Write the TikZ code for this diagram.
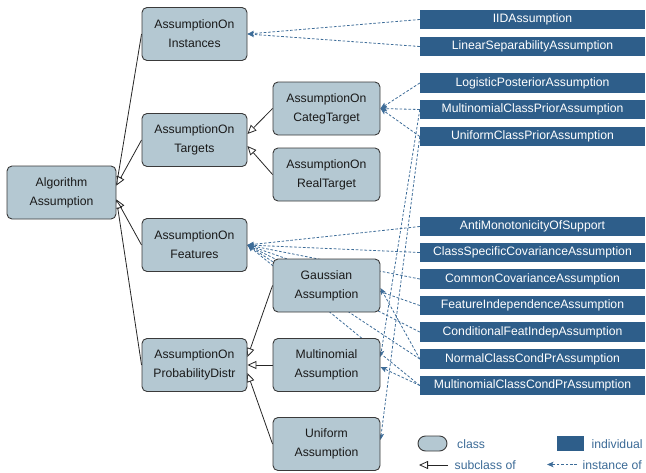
\documentclass[tikz,border=0pt]{standalone}
\usepackage{fontspec}
\setmainfont{Liberation Sans}
\usetikzlibrary{arrows.meta,backgrounds,calc}

\definecolor{classfill}{HTML}{B4C8D2}
\definecolor{classline}{HTML}{3A3A3A}
\definecolor{indivfill}{HTML}{2E5E8A}
\definecolor{instline}{HTML}{3D6C98}
\definecolor{legendtext}{HTML}{3B6A96}

\tikzset{
  classbox/.style={rectangle, rounded corners=5pt, fill=classfill, draw=classline,
    line width=0.9pt, minimum width=106pt, minimum height=53pt, inner sep=0pt,
    align=center, text=black!90, font=\fontsize{12.2}{19}\selectfont},
  indiv/.style={rectangle, fill=indivfill, minimum width=225pt, minimum height=19.5pt,
    inner sep=0pt, text=white, font=\fontsize{12.2}{14}\selectfont},
  subcls/.style={draw=black!85, line width=0.8pt,
    -{Triangle[open, length=9pt, width=8pt, fill=white]}},
  instof/.style={draw=instline, line width=0.8pt, dash pattern=on 2.6pt off 1.8pt,
    -{Stealth[length=6.5pt, width=5.5pt, inset=1.5pt]}},
  legtext/.style={text=legendtext, anchor=west, inner sep=0pt,
    font=\fontsize{12.2}{14}\selectfont},
}

\begin{document}
\begin{tikzpicture}[x=1pt, y=-1pt]
\useasboundingbox (0,0) rectangle (646,472);

% class hierarchy
\node[classbox, minimum width=109pt] (alg) at (61.5,192.5) {Algorithm\\Assumption};
\node[classbox, minimum width=105pt] (inst) at (194.5,34) {AssumptionOn\\Instances};
\node[classbox, minimum width=105pt] (targ) at (194.5,140) {AssumptionOn\\Targets};
\node[classbox, minimum width=105pt] (feat) at (194.5,245) {AssumptionOn\\Features};
\node[classbox, minimum width=105pt] (prob) at (194.5,365) {AssumptionOn\\ProbabilityDistr};
\node[classbox, minimum width=107pt] (categ) at (326.5,108.5) {AssumptionOn\\CategTarget};
\node[classbox, minimum width=107pt] (real) at (326.5,174.5) {AssumptionOn\\RealTarget};
\node[classbox, minimum width=107pt] (gauss) at (326.5,285.5) {Gaussian\\Assumption};
\node[classbox, minimum width=107pt] (multi) at (326.5,365) {Multinomial\\Assumption};
\node[classbox, minimum width=107pt] (unif) at (326.5,444) {Uniform\\Assumption};

% individuals
\node[indiv] (iid)  at (532.5,19.5)  {IIDAssumption};
\node[indiv] (lin)  at (532.5,46.5)  {LinearSeparabilityAssumption};
\node[indiv] (log)  at (532.5,83)    {LogisticPosteriorAssumption};
\node[indiv] (mcp)  at (532.5,109.5) {MultinomialClassPriorAssumption};
\node[indiv] (ucp)  at (532.5,136.5) {UniformClassPriorAssumption};
\node[indiv] (anti) at (532.5,226.5) {AntiMonotonicityOfSupport};
\node[indiv] (csc)  at (532.5,252.5) {ClassSpecificCovarianceAssumption};
\node[indiv] (cc)   at (532.5,279)   {CommonCovarianceAssumption};
\node[indiv] (fi)   at (532.5,305.5) {FeatureIndependenceAssumption};
\node[indiv] (cfi)  at (532.5,332)   {ConditionalFeatIndepAssumption};
\node[indiv] (ncc)  at (532.5,359)   {NormalClassCondPrAssumption};
\node[indiv] (mcc)  at (532.5,385.5) {MultinomialClassCondPrAssumption};

% legend
\node[rectangle, rounded corners=7.5pt, fill=classfill, draw=classline, line width=0.9pt,
  minimum width=29pt, minimum height=15pt, inner sep=0pt] (legclass) at (432.5,443.5) {};
\node[legtext] (legclasst) at (457,444) {class};
\node[rectangle, fill=indivfill, minimum width=27pt, minimum height=15pt, inner sep=0pt]
  (legind) at (570.5,443.5) {};
\node[legtext] (legindt) at (591.5,444) {individual};
\coordinate (subA) at (448,465);
\coordinate (subB) at (419,465);
\node[legtext] (legsubt) at (454.5,465) {subclass of};
\coordinate (insA) at (577,464.5);
\coordinate (insB) at (547,464.5);
\node[legtext] (leginst) at (582.5,465) {instance of};

\begin{pgfonlayer}{background}
  % subclass links
  \draw[subcls] (inst.west) -- ($(alg.east)+(0,-7)$);
  \draw[subcls] (targ.west) -- ($(alg.east)+(0,-7)$);
  \draw[subcls] (feat.west) -- ($(alg.east)+(0,7)$);
  \draw[subcls] (prob.west) -- ($(alg.east)+(0,7)$);
  \draw[subcls] (categ.west) -- ($(targ.east)+(0,-6)$);
  \draw[subcls] (real.west) -- ($(targ.east)+(0,6)$);
  \draw[subcls] (gauss.west) -- ($(prob.east)+(0,-8)$);
  \draw[subcls] (multi.west) -- (prob.east);
  \draw[subcls] (unif.west) -- ($(prob.east)+(0,8)$);

  % instance links
  \draw[instof] (iid.west) -- (inst.east);
  \draw[instof] (lin.west) -- (inst.east);
  \draw[instof] (log.west) -- (categ.east);
  \draw[instof] (mcp.west) -- (categ.east);
  \draw[instof] (ucp.west) -- (categ.east);
  \draw[instof] (mcp.west) -- ($(multi.east)+(0,-8)$);
  \draw[instof] (ucp.west) -- ($(unif.east)+(0,-4)$);
  \draw[instof] (anti.west) -- (feat.east);
  \draw[instof] (csc.west) -- (feat.east);
  \draw[instof] (cc.west) -- (feat.east);
  \draw[instof] (fi.west) -- (feat.east);
  \draw[instof] (cfi.west) -- (feat.east);
  \draw[instof] (ncc.west) -- (feat.east);
  \draw[instof] (mcc.west) -- (feat.east);
  \draw[instof] (ncc.west) -- ($(gauss.east)+(0,2.5)$);
  \draw[instof] (mcc.west) -- ($(multi.east)+(0,2)$);

  % legend links
  \draw[subcls] (subA) -- (subB);
  \draw[instof] (insA) -- (insB);
\end{pgfonlayer}
\end{tikzpicture}
\end{document}
